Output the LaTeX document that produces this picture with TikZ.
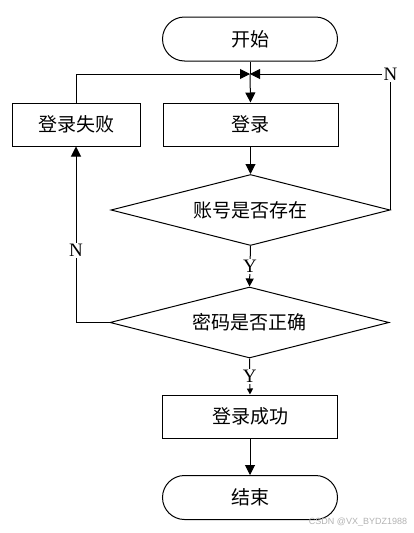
\documentclass[tikz,border=0pt]{standalone}
\usepackage{fontspec}
\setmainfont{Liberation Serif}
\newfontfamily\cjk{Noto Sans CJK SC}
\newfontfamily\wmfont{Liberation Sans}
\usetikzlibrary{shapes.geometric,arrows.meta}
\begin{document}
\begin{tikzpicture}[x=1pt,y=-1pt,line width=1pt,
  cjkfont/.style={font=\cjk\fontsize{19}{19}\selectfont},
  term/.style={draw,rounded corners=22pt,minimum width=175pt,minimum height=44pt,inner sep=0pt,cjkfont},
  box/.style={draw,minimum width=175pt,minimum height=43pt,inner sep=0pt,cjkfont},
  dec/.style={draw,diamond,aspect=3.93,minimum width=279pt,minimum height=71pt,inner sep=0pt,cjkfont},
  lab/.style={fill=white,inner sep=1.5pt,font=\fontsize{19}{19}\selectfont},
  arr/.style={-{Triangle[length=10pt,width=10pt]}},
  arrs/.style={-{Triangle[length=8pt,width=8pt]}},
  arrt/.style={-{Triangle[length=6pt,width=6pt]}}]
\useasboundingbox (0,0) rectangle (413,533);
\node[term] (start) at (250,39) {开始};
\coordinate (j) at (250,74);
\node[box] (login) at (250.5,124.5) {登录};
\node[box,minimum width=128pt] (fail) at (76,124.5) {登录失败};
\node[dec] (d1) at (250.5,210) {账号是否存在};
\node[dec] (d2) at (249.5,322.5) {密码是否正确};
\node[box] (succ) at (250,416.5) {登录成功};
\node[term] (stop) at (250,497.5) {结束};
\node[font=\wmfont\fontsize{9}{9}\selectfont,text=black!30,inner sep=0pt] (wm) at (358,522) {CSDN @VX\_BYDZ1988};
\draw (start.south) -- (j);
\draw[arr] (j) -- (login.north);
\draw[arr] (fail.north) |- (j);
\draw[arr] (d1.east) |- node[lab,pos=0.5]{N} (j);
\draw[arr] (login.south) -- (d1.north);
\draw[arrs] (d1.south) -- node[lab]{Y} (d2.north);
\draw[arr] (d2.west) -| node[lab,pos=0.705]{N} (fail.south);
\draw[arrt] (d2.south) -- node[lab]{Y} (succ.north);
\draw[arr] (succ.south) -- (stop.north);
\end{tikzpicture}
\end{document}
